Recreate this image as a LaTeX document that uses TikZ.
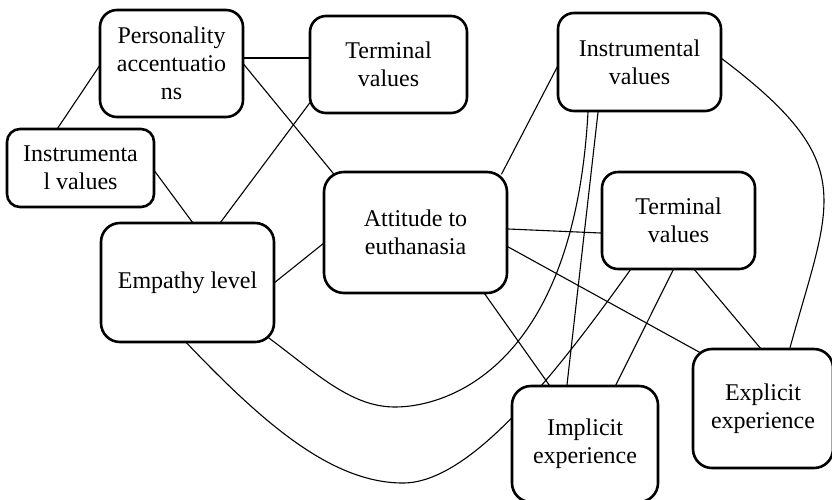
\documentclass[tikz,border=0pt]{standalone}
\usepackage{fontspec}
\setmainfont{Liberation Serif}
\usetikzlibrary{backgrounds}
\begin{document}
\begin{tikzpicture}[x=1pt,y=-1pt,
  box/.style={draw, line width=2.6pt, fill=white, align=center, inner sep=0pt,
    font=\fontsize{24}{28}\selectfont},
  conn/.style={line width=1.1pt, shorten <=-4pt, shorten >=-4pt}]
\useasboundingbox (0,0) rectangle (832,499);
% boxes
\node[box, minimum width=143pt, minimum height=107pt, rounded corners=17pt] (pers) at (171.5,63.5) {Personality\\accentuatio\\ns};
\node[box, minimum width=157pt, minimum height=97pt, rounded corners=16pt] (termT) at (388.5,64.5) {Terminal\\values};
\node[box, minimum width=147pt, minimum height=78pt, rounded corners=13pt] (instL) at (80.5,168) {Instrumenta\\l values};
\node[box, minimum width=173pt, minimum height=119pt, rounded corners=19pt] (emp) at (187.5,282.5) {Empathy level};
\node[box, minimum width=183pt, minimum height=121pt, rounded corners=20pt] (att) at (415.5,232.5) {Attitude to\\euthanasia};
\node[box, minimum width=163pt, minimum height=98pt, rounded corners=16pt] (instR) at (639.5,62) {Instrumental\\values};
\node[box, minimum width=153pt, minimum height=97pt, rounded corners=16pt] (termR) at (678.5,220.5) {Terminal\\values};
\node[box, minimum width=140pt, minimum height=119pt, rounded corners=19pt] (expl) at (763,408.5) {Explicit\\experience};
\node[box, minimum width=146pt, minimum height=116pt, rounded corners=19pt] (impl) at (585,444) {Implicit\\experience};
% connectors
\begin{scope}[on background layer]
\draw[conn] ([shift={(0,3.5)}]pers.west) -- ([shift={(-22.5,0)}]instL.north);
\draw[conn] ([shift={(0,-5.5)}]pers.east) -- ([shift={(0,-6.5)}]termT.west);
\draw[conn] ([shift={(0,1.5)}]pers.east) -- ([shift={(10,2)}]att.north west);
\draw[conn] ([shift={(0,-10)}]termT.south west) -- ([shift={(33.5,0)}]emp.north);
\draw[conn] ([shift={(0,4)}]instL.east) -- ([shift={(4.5,0)}]emp.north);
\draw[conn] ([shift={(0,-0.5)}]emp.east) -- ([shift={(0,11.5)}]att.west);
\draw[conn] ([shift={(0,6)}]instR.west) -- ([shift={(-5,0)}]att.north east);
\draw[conn] ([shift={(0,-3)}]instR.east) .. controls (862,164) and (830.5,199) .. ([shift={(27,0)}]expl.north);
\draw[conn] ([shift={(0,-3.5)}]att.east) -- ([shift={(0,12.5)}]termR.west);
\draw[conn] ([shift={(0,14.5)}]att.east) -- ([shift={(5,3)}]expl.north west);
\draw[conn] ([shift={(69.5,0)}]att.south) -- ([shift={(-36,0)}]impl.north);
\draw[conn] ([shift={(-41.5,0)}]instR.south) -- ([shift={(-18,0)}]impl.north);
\draw[conn] ([shift={(-6,-5)}]emp.south east) .. controls (315,372) and (350,407) .. (395,407)
  .. controls (445,407) and (575,370) .. ([shift={(-51.5,0)}]instR.south);
\draw[conn] ([shift={(-0.5,0)}]emp.south) .. controls (260,420) and (330,483) .. (403,483)
  .. controls (470,483) and (554.7,376) .. ([shift={(-48.5,0)}]termR.south);
\draw[conn] ([shift={(-5.5,0)}]termR.south) -- ([shift={(31,0)}]impl.north);
\draw[conn] ([shift={(16.5,0)}]termR.south) -- ([shift={(-3,0)}]expl.north);
\end{scope}
\end{tikzpicture}
\end{document}
